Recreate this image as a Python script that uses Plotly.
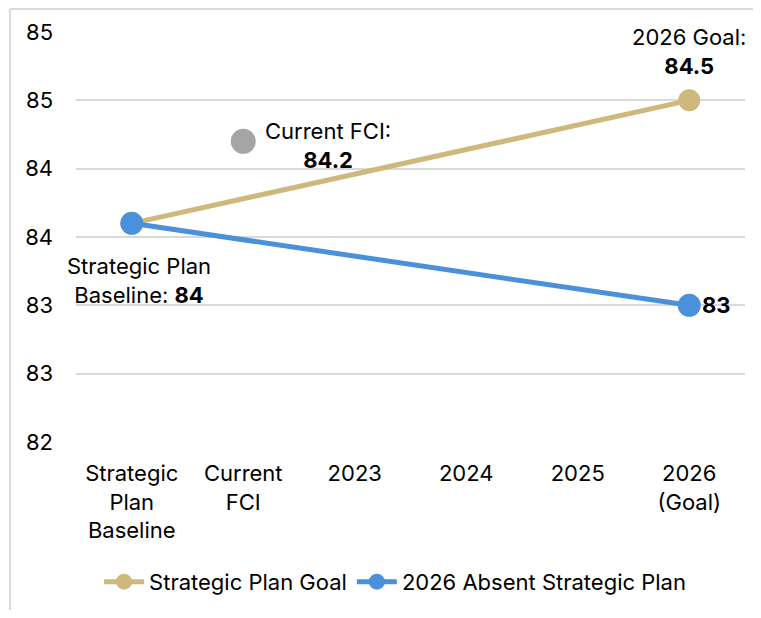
import plotly.graph_objects as go

categories = ["Strategic<br>Plan<br>Baseline", "Current<br>FCI", "2023", "2024", "2025", "2026<br>(Goal)"]
goal_values = [83.6, None, None, None, None, 84.5]
absent_values = [83.6, None, None, None, None, 83.0]
current_fci_cat = ["Current<br>FCI"]
current_fci_val = [84.2]
y_tickvals = [82.0, 82.5, 83.0, 83.5, 84.0, 84.5, 85.0]
y_ticktext = ["82", "83", "83", "84", "84", "85", "85"]

GOLD = "#CFB87B"
BLUE = "#4A90DA"
GRAY = "#A6A5A5"
FONT = "Inter, Liberation Sans, Arial, sans-serif"
FS = 22

fig = go.Figure()
fig.add_trace(go.Scatter(
    x=categories, y=goal_values, name="Strategic Plan Goal", mode="lines+markers",
    connectgaps=True, line=dict(color=GOLD, width=5), marker=dict(color=GOLD, size=22)))
fig.add_trace(go.Scatter(
    x=categories, y=absent_values, name="2026 Absent Strategic Plan", mode="lines+markers",
    connectgaps=True, line=dict(color=BLUE, width=5), marker=dict(color=BLUE, size=23)))
fig.add_trace(go.Scatter(
    x=current_fci_cat, y=current_fci_val, mode="markers", showlegend=False,
    marker=dict(color=GRAY, size=25)))

ann_font = dict(family=FONT, size=FS, color="black")
fig.add_annotation(x=categories[0], y=goal_values[0], text="Strategic Plan<br>Baseline: <b>84</b>",
                   showarrow=False, xshift=7, yshift=-57, font=ann_font)
fig.add_annotation(x=current_fci_cat[0], y=current_fci_val[0], text="Current FCI:<br><b>84.2</b>",
                   showarrow=False, xshift=85, yshift=-4, font=ann_font)
fig.add_annotation(x=categories[5], y=goal_values[5], text="2026 Goal:<br><b>84.5</b>",
                   showarrow=False, xshift=0, yshift=49, font=ann_font)
fig.add_annotation(x=categories[5], y=absent_values[5], text="<b>83</b>",
                   showarrow=False, xshift=27, yshift=0, font=ann_font)

# page has an 8px body margin; figure is sized/offset to fit the 761x618 window
OFF = 8
W, H = 761 - 2 * OFF, 618 - 2 * OFF
L, R, T, B = 76 - OFF, 761 - OFF - 745, 32 - OFF, 618 - OFF - 442
pw, ph = W - L - R, H - T - B
def px2paper_x(px): return (px - OFF - L) / pw
def px2paper_y(py): return (H + OFF - B - py) / ph

border = dict(color="#D9D9D9", width=2)
fig.add_shape(type="line", xref="paper", yref="paper", x0=px2paper_x(10), x1=px2paper_x(780),
              y0=px2paper_y(9), y1=px2paper_y(9), line=border)
fig.add_shape(type="line", xref="paper", yref="paper", x0=px2paper_x(10), x1=px2paper_x(10),
              y0=px2paper_y(9), y1=px2paper_y(640), line=border)

fig.update_layout(
    width=W, height=H, margin=dict(l=L, r=R, t=T, b=B, autoexpand=False),
    plot_bgcolor="white", paper_bgcolor="white",
    font=dict(family=FONT, size=FS, color="black"),
    legend=dict(orientation="h", x=0.477, xanchor="center", y=-0.29, yanchor="top",
                font=dict(family=FONT, size=FS), itemwidth=40),
    showlegend=True,
)
fig.update_xaxes(type="category", range=[-0.5, 5.5], showgrid=False, showline=False,
                 ticks="", ticklabelstandoff=16, automargin=False, tickfont=dict(family=FONT, size=FS))
fig.update_yaxes(range=[82, 85], tickvals=y_tickvals, ticktext=y_ticktext, showgrid=True,
                 gridcolor="#D9D9D9", gridwidth=1.5, zeroline=False, showline=False,
                 ticklabelstandoff=22, automargin=False, tickfont=dict(family=FONT, size=FS))

fig.write_html("out.html")
